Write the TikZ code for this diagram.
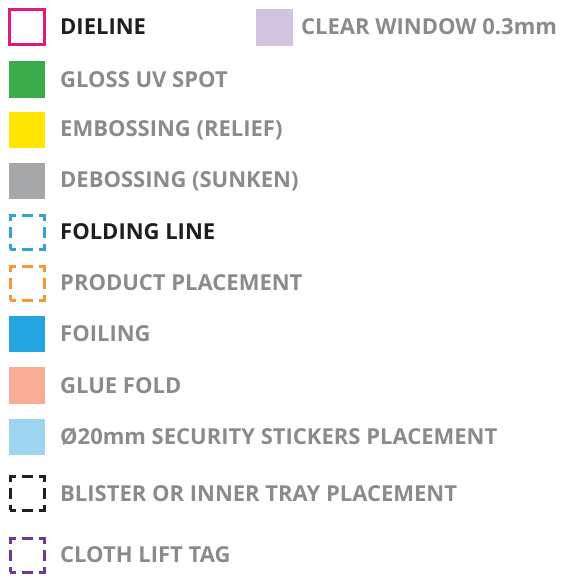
\documentclass[tikz,border=0pt]{standalone}
\usepackage{fontspec}
\setmainfont{Open Sans}
\definecolor{dieline}{HTML}{E0197F}
\definecolor{gloss}{HTML}{3BAA48}
\definecolor{emboss}{HTML}{FFE600}
\definecolor{deboss}{HTML}{A6A7A9}
\definecolor{foldc}{HTML}{2EA3D6}
\definecolor{prodc}{HTML}{F29A33}
\definecolor{foilc}{HTML}{25A5E0}
\definecolor{gluec}{HTML}{F8AE96}
\definecolor{stickc}{HTML}{9DD4F0}
\definecolor{windowc}{HTML}{D1C4E0}
\definecolor{blisterc}{HTML}{231F20}
\definecolor{clothc}{HTML}{6A3B96}
\definecolor{txtgray}{HTML}{8B8B8B}
\definecolor{txtdark}{HTML}{1E1E1E}
\tikzset{
  sw/.style={minimum width=36.5pt, minimum height=36.5pt, inner sep=0pt, outer sep=0pt},
  filled/.style={sw, fill=#1, draw=none},
  outlined/.style={minimum width=35pt, minimum height=35pt, inner sep=0pt, outer sep=0pt, draw=#1, line width=3pt},
  dashedbox/.style={minimum width=34pt, minimum height=34pt, inner sep=0pt, outer sep=0pt, draw=#1, line width=3pt, dash pattern=on 11pt off 6pt, dash phase=5.5pt},
  lbl/.style={anchor=west, inner sep=0pt, font=\bfseries\fontsize{22}{24}\selectfont, text=#1},
}
\begin{document}
\begin{tikzpicture}[x=1pt,y=-1pt]
\useasboundingbox (0,0) rectangle (570,580);
\node[outlined=dieline] (s1) at (27,27) {};
\node[lbl=txtdark] (t1) at (60,27) {DIELINE};
\node[filled=windowc] (s12) at (274.5,27.5) {};
\node[lbl=txtgray] (t12) at (301,27) {CLEAR WINDOW 0.3mm};
\node[filled=gloss] (s2) at (27,79.5) {};
\node[lbl=txtgray] (t2) at (60,79.5) {GLOSS UV SPOT};
\node[filled=emboss] (s3) at (27,130) {};
\node[lbl=txtgray] (t3) at (60,130) {EMBOSSING (RELIEF)};
\node[filled=deboss] (s4) at (27,181) {};
\node[lbl=txtgray] (t4) at (60,181) {DEBOSSING (SUNKEN)};
\node[dashedbox=foldc] (s5) at (27,232) {};
\node[lbl=txtdark] (t5) at (60,232) {FOLDING LINE};
\node[dashedbox=prodc] (s6) at (27,283) {};
\node[lbl=txtgray] (t6) at (60,283) {PRODUCT PLACEMENT};
\node[filled=foilc] (s7) at (27,334) {};
\node[lbl=txtgray] (t7) at (60,334) {FOILING};
\node[filled=gluec] (s8) at (27,385.5) {};
\node[lbl=txtgray] (t8) at (60,385.5) {GLUE FOLD};
\node[filled=stickc] (s9) at (27,437) {};
\node[lbl=txtgray] (t9) at (60,437) {Ø20mm SECURITY STICKERS PLACEMENT};
\node[dashedbox=blisterc] (s10) at (27,493) {};
\node[lbl=txtgray] (t10) at (60,494) {BLISTER OR INNER TRAY PLACEMENT};
\node[dashedbox=clothc] (s11) at (27,555) {};
\node[lbl=txtgray] (t11) at (60,555) {CLOTH LIFT TAG};
\end{tikzpicture}
\end{document}
